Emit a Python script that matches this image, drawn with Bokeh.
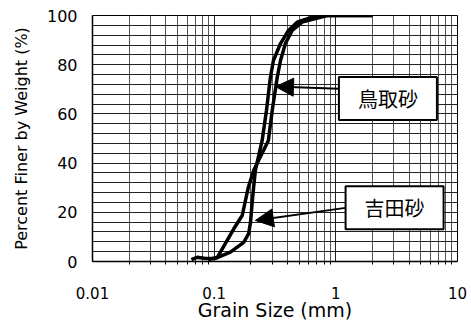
from bokeh.plotting import figure
from bokeh.models import FixedTicker, Arrow, NormalHead, Label, CustomJSTickFormatter
from bokeh.embed import file_html
from bokeh.resources import INLINE

# Grain size (mm) and percent finer by weight (%)
tottori_size = [0.065, 0.0724, 0.085, 0.0993, 0.106, 0.145, 0.170, 0.191, 0.211,
                0.279, 0.300, 0.330, 0.351, 0.385, 0.438, 0.528, 0.848, 2.0]
tottori_pct = [0.8, 1.7, 1.2, 1.2, 1.6, 13.3, 18.7, 30.2, 37.0,
               49.2, 61.4, 74.9, 81.7, 88.6, 93.9, 97.3, 100.0, 100.0]

yoshida_size = [0.09, 0.106, 0.136, 0.175, 0.192, 0.199, 0.205, 0.211, 0.218,
                0.248, 0.269, 0.290, 0.307, 0.351, 0.408, 0.481, 0.702, 2.0]
yoshida_pct = [0.8, 1.6, 3.8, 7.8, 11.3, 16.0, 23.6, 30.2, 37.0,
               49.2, 61.4, 74.9, 81.7, 88.6, 93.9, 97.3, 100.0, 100.0]

x_ticks = [0.01, 0.1, 1, 10]
x_minor = [k * 10.0 ** e for e in (-2, -1, 0) for k in range(2, 10)]
y_ticks = [0, 20, 40, 60, 80, 100]
y_grid = list(range(0, 101, 4))

labels = ["鳥取砂", "吉田砂"]
x_title = "Grain Size (mm)"
y_title = "Percent Finer by Weight (%)"

p = figure(width=471, height=323, x_axis_type="log", x_range=(0.01, 10), y_range=(0, 100),
           output_backend="svg", toolbar_location=None,
           min_border_left=92, min_border_right=14, min_border_top=15, min_border_bottom=62)
p.background_fill_color = "white"
p.border_fill_color = "white"
p.outline_line_color = "black"
p.outline_line_width = 1

xt = FixedTicker(ticks=x_ticks, minor_ticks=x_minor)
p.xaxis.ticker = xt
p.xaxis.formatter = CustomJSTickFormatter(code="return String(parseFloat(tick.toPrecision(3)));")
p.yaxis.ticker = FixedTicker(ticks=y_ticks)

p.xgrid.ticker = xt
p.xgrid.grid_line_color = "#222222"
p.xgrid.grid_line_width = 1
p.xgrid.minor_grid_line_color = "#555555"
p.xgrid.minor_grid_line_width = 1
p.ygrid.ticker = FixedTicker(ticks=y_grid)
p.ygrid.grid_line_color = "#222222"
p.ygrid.grid_line_width = 1

for ax in (p.xaxis[0], p.yaxis[0]):
    ax.axis_line_color = "black"
    ax.axis_line_width = 1.5
    ax.major_tick_in = 0
    ax.major_tick_out = 0
    ax.minor_tick_in = 0
    ax.major_label_text_font = "DejaVu Sans"
    ax.major_label_text_color = "black"
    ax.axis_label_text_font = "DejaVu Sans"
    ax.axis_label_text_font_style = "normal"
    ax.axis_label_text_color = "black"

p.xaxis.major_label_text_font_size = "15px"
p.yaxis.major_label_text_font_size = "16px"
p.xaxis.minor_tick_out = 3
p.xaxis.minor_tick_line_color = "black"
p.yaxis.minor_tick_out = 0
p.xaxis.major_label_standoff = 22
p.yaxis.major_label_standoff = 15
p.xaxis.axis_label = x_title
p.xaxis.axis_label_text_font_size = "19px"
p.xaxis.axis_label_standoff = -3
p.yaxis.axis_label = y_title
p.yaxis.axis_label_text_font_size = "16px"
p.yaxis.axis_label_standoff = 13

p.line(tottori_size, tottori_pct, line_color="black", line_width=3.5)
p.line(yoshida_size, yoshida_pct, line_color="black", line_width=3.5)

p.add_layout(Arrow(end=NormalHead(size=18, fill_color="black", line_color="black"),
                   x_start=1.05, y_start=70.2, x_end=0.319, y_end=71.1,
                   line_color="black", line_width=2))
p.add_layout(Arrow(end=NormalHead(size=18, fill_color="black", line_color="black"),
                   x_start=1.2, y_start=21.8, x_end=0.218, y_end=16.7,
                   line_color="black", line_width=2))

for txt, lx, ly in zip(labels, [2.68, 3.04], [66.3, 21.9]):
    p.add_layout(Label(x=lx, y=ly, text=txt, text_align="center", text_baseline="middle",
                       text_font="Noto Sans CJK JP", text_font_size="20px", text_color="black",
                       background_fill_color="white", border_line_color="black",
                       border_line_width=2,
                       padding=dict(left=19, right=19, top=7, bottom=7)))

open("out.html", "w").write(file_html(p, INLINE))
